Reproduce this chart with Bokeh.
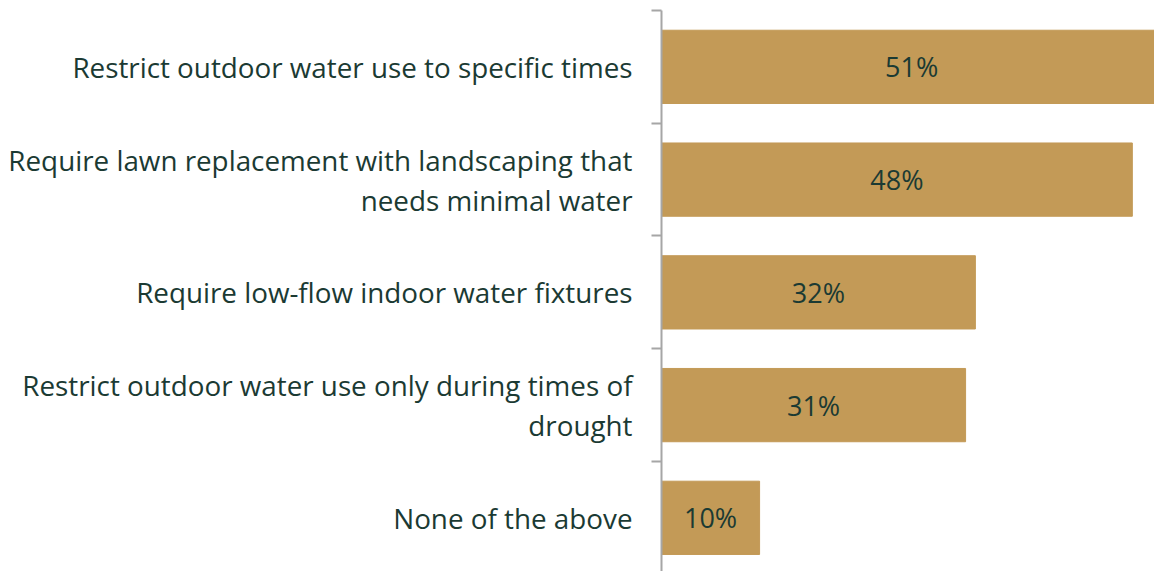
from bokeh.plotting import figure
from bokeh.models import Range1d, FixedTicker, ColumnDataSource
from bokeh.core.properties import value
from bokeh.embed import file_html
from bokeh.resources import INLINE

categories = [
    "Restrict outdoor water use to specific times",
    "Require lawn replacement with landscaping that\nneeds minimal water",
    "Require low-flow indoor water fixtures",
    "Restrict outdoor water use only during times of\ndrought",
    "None of the above",
]
values = [51, 48, 32, 31, 10]
value_labels = ["51%", "48%", "32%", "31%", "10%"]

n = len(categories)
positions = [n - i for i in range(n)]

src = ColumnDataSource(dict(
    y=positions,
    right=values,
    mid=[v / 2 for v in values],
    lab=value_labels,
))

TEXT = "#1B3A33"
BAR = "#C39A57"
FONT = "Open Sans"

p = figure(width=1154, height=571, output_backend="svg", toolbar_location=None,
           x_range=Range1d(0, 50.26), y_range=Range1d(0.524, 5.5),
           min_border_left=661, min_border_right=0, min_border_top=10, min_border_bottom=0)

p.hbar(y="y", left=0, right="right", height=0.65, source=src, color=BAR)
p.text(x="mid", y="y", text="lab", source=src, text_align="center", text_baseline="middle",
       text_font=value(FONT), text_font_size="27px", text_color=TEXT)

p.xaxis.visible = False
p.xgrid.visible = False
p.ygrid.visible = False
p.outline_line_color = None

ax = p.yaxis[0]
ax.ticker = FixedTicker(ticks=positions, minor_ticks=[k + 0.5 for k in range(0, n + 1)])
ax.major_label_overrides = {pos: cat for pos, cat in zip(positions, categories)}
ax.major_tick_out = 0
ax.major_tick_in = 0
ax.minor_tick_out = 10
ax.minor_tick_in = 0
ax.minor_tick_line_color = "#A6A6A6"
ax.minor_tick_line_width = 2
ax.axis_line_color = "#A6A6A6"
ax.axis_line_width = 2
ax.major_label_standoff = 19
ax.major_label_text_font = FONT
ax.major_label_text_font_size = "27.8px"
ax.major_label_text_color = TEXT
ax.major_label_text_line_height = 1.05

open("out.html", "w").write(file_html(p, INLINE))
